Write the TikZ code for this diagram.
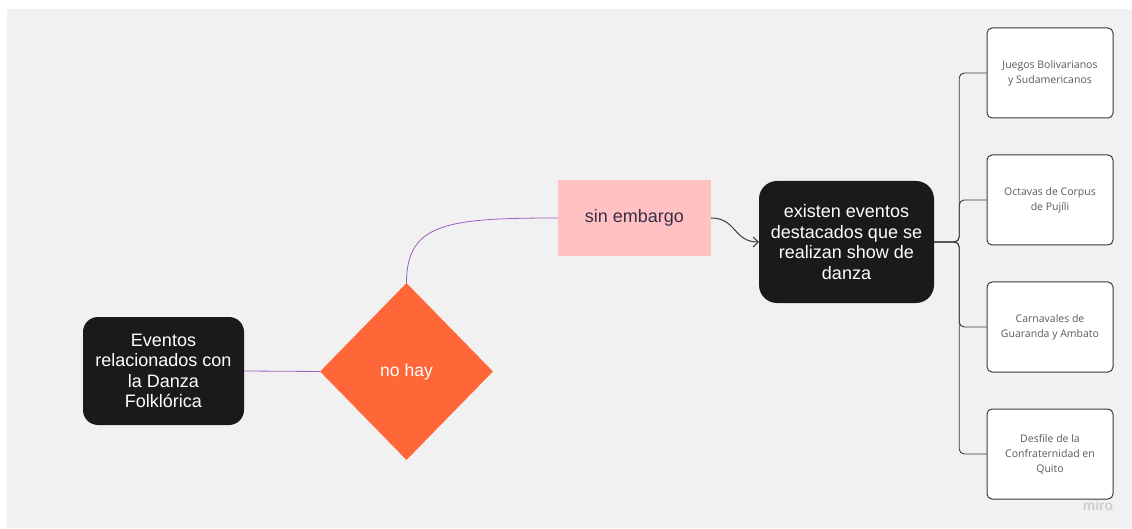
\documentclass[tikz,border=0pt]{standalone}
\usepackage{fontspec}
\setmainfont{Liberation Sans}
\newfontfamily\leaffont{Open Sans}
\usetikzlibrary{shapes.geometric,arrows.meta}

\definecolor{boardgrey}{HTML}{F1F1F1}
\definecolor{boxblack}{HTML}{1A1A1A}
\definecolor{nohayorange}{HTML}{FF6638}
\definecolor{sinpink}{HTML}{FFC1C1}
\definecolor{pinktext}{HTML}{3A2D48}
\definecolor{linkpurple}{HTML}{9B5FC0}
\definecolor{linegrey}{HTML}{3A3A3A}
\definecolor{leaftext}{HTML}{5A5A5A}
\definecolor{marktext}{HTML}{CFCFCF}

\begin{document}
\begin{tikzpicture}[
                      x = 1pt,
                      y = -1pt,
         darkbox/.style = {fill=boxblack, text=white, rounded corners=15pt, align=center,
                           font=\fontsize{18}{20.5}\selectfont},
        decision/.style = {diamond, fill=nohayorange, text=white, inner sep=0pt,
                           minimum width=173pt, minimum height=177pt,
                           font=\fontsize{17.5}{20}\selectfont},
         pinkbox/.style = {fill=sinpink, text=pinktext, minimum width=153pt, minimum height=76pt,
                           font=\fontsize{18}{20.5}\selectfont},
         leafbox/.style = {draw=linegrey, line width=1pt, fill=white, rounded corners=5pt,
                           minimum width=126pt, minimum height=90pt, align=center, text=leaftext,
                           font=\leaffont\fontsize{10.5}{15}\selectfont},
            link/.style = {draw=linkpurple, line width=0.8pt},
          branch/.style = {draw=linegrey, line width=0.9pt, rounded corners=5pt},
                     ]
\useasboundingbox (0,0) rectangle (1132,529);
\fill[white] (0,0) rectangle (1132,529);
\fill[boardgrey] (7,9) rectangle (1132,528);

\node[darkbox, minimum width=161pt, minimum height=108pt] (eventos) at (163.5,371)
    {Eventos\\relacionados con\\la Danza\\Folklórica};
\node[decision] (nohay) at (406.5,371.5) {no hay};
\node[pinkbox] (sinembargo) at (634.5,218) {sin embargo};
\node[darkbox, rounded corners=18pt, minimum width=175pt, minimum height=122pt] (existen) at (846.5,242)
    {existen eventos\\destacados que se\\realizan show de\\danza};

% eventos destacados
\node[leafbox] (juegos)   at (1050,73)  {Juegos Bolivarianos\\y Sudamericanos};
\node[leafbox] (octavas)  at (1050,200) {Octavas de Corpus\\de Pujíli};
\node[leafbox] (carnaval) at (1050,327) {Carnavales de\\Guaranda y Ambato};
\node[leafbox] (desfile)  at (1050,454) {Desfile de la\\Confraternidad en\\Quito};

\node[text=marktext, font=\bfseries\fontsize{14}{14}\selectfont] (miro) at (1098,505) {miro};

\draw[link] (eventos.east) -- (nohay.west);
\draw[link] (nohay.north) .. controls +(0,-60) and +(-110,0) .. (sinembargo.west);
\draw[-{Straight Barb[length=5pt,width=10pt]}, draw=linegrey, line width=1pt]
    (sinembargo.east) .. controls +(25,0) and +(-25,0) .. (existen.west);

\coordinate (hub) at ([xshift=25pt]existen.east);
\foreach \leaf in {juegos,octavas,carnaval,desfile}
    \draw[branch] (existen.east) -- (hub) |- (\leaf.west);
\end{tikzpicture}
\end{document}
